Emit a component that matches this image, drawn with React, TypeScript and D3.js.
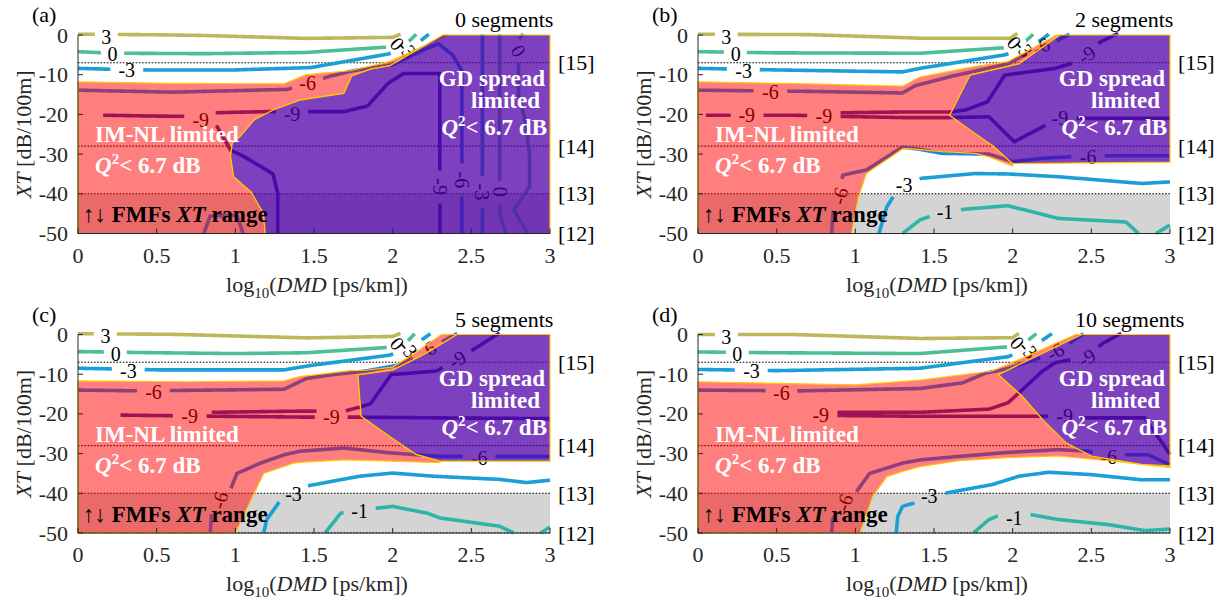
import React from "react";
import * as d3 from "d3";

type P = [number, number];
type Contour = { level: string; pts: P[] };
type Lab = [string, number, number, number];

const xTicks = [0, 0.5, 1, 1.5, 2, 2.5, 3];
const yTicks = [0, -10, -20, -30, -40, -50];
const fmfLevels = [-7, -28, -40, -50];
const fmfRefs = ["[15]", "[14]", "[13]", "[12]"];
const panelTags = ["(a)", "(b)", "(c)", "(d)"];
const segmentTitles = ["0 segments", "2 segments", "5 segments", "10 segments"];

const levelColor: Record<string, string> = {
  "3": "#bdb85c",
  "0": "#4cbf94",
  "-1": "#2fb5a8",
  "-3": "#1aa0d6",
  "-6": "#1f80f0",
  "-9": "#3e26a8",
};

// ---- (a) 0 segments
const imA: P[] = [[0,-11.8],[0.6,-12.2],[1.31,-12.3],[1.45,-10],[1.73,-9.0],[1.98,-6.7],[2.35,0],[2.32,0],[1.98,-7.8],[1.86,-8.6],[1.74,-10.3],[1.69,-14.7],[1.41,-16.4],[1.24,-18.9],[1.12,-21.4],[1.03,-25.6],[0.98,-27.3],[0.97,-30.7],[0.99,-35.7],[1.1,-39.5],[1.18,-45],[1.19,-50],[0,-50]];
const gdA: P[] = [[2.32,0],[3,0],[3,-50],[1.19,-50],[1.18,-45],[1.1,-39.5],[0.99,-35.7],[0.97,-30.7],[0.98,-27.3],[1.03,-25.6],[1.12,-21.4],[1.24,-18.9],[1.41,-16.4],[1.69,-14.7],[1.74,-10.3],[1.86,-8.6],[1.98,-7.8]];
const contoursA: Contour[] = [
  { level: "3", pts: [[0,0.2],[0.5,0.05],[0.78,-0.1],[1.45,-0.85],[2.0,-0.6],[2.05,0.2]] },
  { level: "0", pts: [[0,-4.2],[0.14,-4.45],[0.3,-4.6],[0.8,-4.7],[1.45,-4.4],[1.94,-3.1],[2.0,-3.0],[2.09,-2.1],[2.15,0.2]] },
  { level: "-3", pts: [[0,-8.4],[0.18,-8.6],[0.44,-8.8],[1.0,-8.8],[1.48,-8.2],[1.97,-4.8],[2.1,-3.5],[2.17,-1.7],[2.23,0.2]] },
  { level: "-6", pts: [[0,-13.9],[0.6,-14.4],[1.33,-13.7],[1.45,-12.4],[1.6,-10.4],[1.75,-9.0],[2.0,-7.5],[2.2,-3.7],[2.29,-2.2],[2.38,-5],[2.44,-9],[2.44,-50]] },
  { level: "-6", pts: [[0.8,-50],[0.84,-45.6],[1.01,-45.4],[1.05,-50]] },
  { level: "-9", pts: [[0.16,-20.2],[0.45,-20.4],[0.7,-20.5],[0.8,-21.2],[0.88,-22.8],[0.97,-29],[1.05,-30.5],[1.24,-35],[1.27,-40],[1.27,-50]] },
  { level: "-9", pts: [[0.85,-19.6],[1.2,-19.3],[1.69,-19.3],[1.84,-17.9],[1.97,-12.2],[2.07,-9.7],[2.3,-9.7],[2.3,-50]] },
  { level: "-3", pts: [[2.57,0.2],[2.57,-50]] },
  { level: "0", pts: [[2.68,0.2],[2.68,-45],[2.72,-50]] },
  { level: "0", pts: [[2.83,0.3],[2.78,-2.5],[2.8,-6],[2.8,-15],[2.85,-22.7],[2.87,-30.7],[2.87,-38.2],[2.77,-44.1],[2.86,-50]] },
];
const labelsA: Lab[] = [
  ["3",0.18,-0.4,0],["0",0.22,-4.7,0],["-3",0.31,-8.9,0],["0",2.03,-2.2,50],["-3",2.09,-3.5,50],
  ["-6",1.46,-12.2,0],["-9",0.78,-21.4,0],["-9",1.36,-19.9,0],
  ["-9",2.3,-38.2,90],["-6",2.44,-36.5,90],["-3",2.57,-39.5,90],["0",2.68,-39.5,90],["0",2.8,-4.0,60],
];

// ---- (b) 2 segments
const imB: P[] = [[0,-11.8],[0.7,-12.3],[1.3,-12.9],[1.41,-10.6],[1.75,-8.0],[1.97,-6.7],[2.28,0],[2.3,0],[2.04,-7.3],[1.73,-10.1],[1.6,-20.2],[1.73,-23.9],[1.88,-28.1],[2.0,-32.4],[2.0,-33.0],[1.85,-30.7],[1.76,-29.8],[1.55,-29.4],[1.34,-28.6],[1.3,-28.7],[1.07,-34.9],[1.02,-40.8],[0.975,-50],[0,-50]];
const gdB: P[] = [[2.3,0],[3,0],[3,-32.0],[2.0,-32.4],[1.88,-28.1],[1.73,-23.9],[1.6,-20.2],[1.73,-10.1],[2.04,-7.3]];
const contoursB: Contour[] = [
  { level: "3", pts: [[0,0.2],[0.7,0.1],[1.41,-0.8],[1.985,-0.84],[2.03,0.4]] },
  { level: "0", pts: [[0,-4.2],[0.5,-4.5],[1.41,-4.6],[1.95,-3.2],[2.0,-3.0],[2.09,-1.3],[2.13,0.2]] },
  { level: "-3", pts: [[0,-8.4],[0.5,-8.8],[1.3,-9.3],[1.41,-8.4],[1.95,-5.0],[2.05,-3.8],[2.18,-1.3],[2.23,0.2]] },
  { level: "-6", pts: [[0,-13.9],[0.7,-14.2],[1.3,-14.6],[1.38,-12.8],[1.6,-10.5],[1.97,-7.3],[2.1,-4.5],[2.2,-2.3],[2.27,-1.7],[2.36,0.2]] },
  { level: "-9", pts: [[0.05,-20.2],[0.6,-20.2],[0.9,-20.5],[1.3,-20.8],[1.6,-20.8],[1.85,-20.6],[2.01,-26.9],[2.23,-22.3],[2.4,-21],[3,-21]] },
  { level: "-9", pts: [[0.9,-19.6],[1.3,-19.4],[1.6,-19.4],[1.7,-18.9],[1.84,-16.8],[1.95,-10.1],[2.27,-8.4],[2.4,-6.8],[2.56,-1.7],[2.67,0.4]] },
  { level: "-6", pts: [[0.85,-50],[0.86,-43.3],[0.9,-40.5],[0.92,-35.3],[1.07,-34],[1.3,-28.2],[1.41,-28.8],[1.55,-29.8],[1.85,-30],[2.0,-31.9],[2.2,-31],[2.36,-30.7],[2.61,-30.4],[3,-30.4]] },
  { level: "-3", pts: [[1.15,-50],[1.2,-43.3],[1.26,-39.5],[1.31,-37.5],[1.42,-36.1],[1.76,-34.9],[1.97,-35.0],[2.29,-35.7],[2.82,-37.4],[3,-37]] },
  { level: "-1", pts: [[1.3,-50],[1.41,-46.6],[1.5,-45.3],[1.69,-43.9],[1.97,-43.0],[2.29,-46.2],[2.72,-47.1],[2.8,-50]] },
  { level: "-1", pts: [[2.91,-50],[3,-47.9]] },
];
const labelsB: Lab[] = [
  ["3",0.18,-0.5,0],["0",0.24,-4.7,0],["-3",0.29,-9.0,0],["0",2.01,-1.9,50],["-3",2.07,-3.3,50],
  ["-6",0.46,-14.3,0],["-6",2.18,-2.8,-25],["-9",0.31,-20.2,0],["-9",0.8,-20.3,0],["-9",2.3,-21,0],["-9",2.47,-5.0,-35],
  ["-6",0.9,-40.5,-75],["-6",2.48,-30.7,0],["-3",1.31,-37.8,0],["-1",1.57,-44.5,0],
];

// ---- (c) 5 segments
const imC: P[] = [[0,-11.7],[0.7,-11.9],[1.31,-11.7],[1.41,-10.6],[1.73,-9.1],[1.83,-9.0],[2.0,-8.2],[2.13,-5.0],[2.31,0],[2.41,0],[2.2,-5.0],[2.0,-9.0],[1.78,-10.2],[1.8,-20.6],[1.98,-25.6],[2.15,-30.2],[2.3,-31.9],[2.3,-32.3],[2.0,-31.9],[1.69,-31.6],[1.41,-32.2],[1.37,-32.4],[1.18,-35],[1.08,-43.3],[1.0,-50],[0,-50]];
const gdC: P[] = [[2.41,0],[3,0],[3,-31.9],[2.3,-31.9],[2.15,-30.2],[1.98,-25.6],[1.8,-20.6],[1.78,-10.2],[2.0,-9.0],[2.2,-5.0]];
const contoursC: Contour[] = [
  { level: "3", pts: [[0,0.2],[0.6,0.05],[1.45,-0.85],[2.0,-0.5],[2.05,0.3]] },
  { level: "0", pts: [[0,-4.3],[0.5,-4.6],[1.0,-4.8],[1.45,-4.6],[1.95,-3.3],[2.02,-3.0],[2.09,-1.9],[2.14,0.2]] },
  { level: "-3", pts: [[0,-8.5],[0.5,-8.9],[1.31,-8.9],[1.48,-7.8],[1.98,-5.2],[2.05,-4.3],[2.18,-1.5],[2.24,0.2]] },
  { level: "-6", pts: [[0,-14.0],[0.4,-14.2],[1.31,-13.8],[1.45,-11.1],[1.62,-10.1],[1.83,-9.2],[2.05,-7.6],[2.22,-3.9],[2.36,-0.8],[2.41,0.2]] },
  { level: "-9", pts: [[0.27,-20.3],[0.71,-20.5],[0.9,-20.6],[1.41,-20.8],[1.72,-20.8],[2.3,-21.0],[3,-21.2]] },
  { level: "-9", pts: [[0.85,-19.6],[1.41,-19.3],[1.69,-19.3],[1.8,-18.2],[1.86,-17.4],[1.99,-10.1],[2.28,-9.2],[2.39,-6.7],[2.48,-4.6],[2.68,0.4]] },
  { level: "-6", pts: [[0.84,-50],[0.85,-45],[0.9,-41.7],[0.97,-39],[1.01,-35],[1.16,-32.4],[1.31,-30.3],[1.41,-29.4],[1.69,-28.6],[1.98,-29.8],[2.3,-30.7],[3,-30.7]] },
  { level: "-3", pts: [[1.18,-50],[1.2,-46.6],[1.29,-41.6],[1.37,-40],[1.45,-38.2],[1.79,-35.7],[2.0,-34.9],[2.26,-35.7],[2.68,-36.5],[2.85,-37.3],[3,-36.7]] },
  { level: "-1", pts: [[1.57,-50],[1.67,-45],[1.79,-44.4],[1.91,-43.7],[2.0,-43.3],[2.22,-45.0],[2.3,-46.2],[2.68,-48.3],[2.77,-50]] },
  { level: "-1", pts: [[2.94,-50],[3,-48.5]] },
];
const labelsC: Lab[] = [
  ["3",0.175,-0.4,0],["0",0.24,-4.8,0],["-3",0.32,-9.2,0],["0",2.03,-2.3,50],["-3",2.1,-3.6,50],
  ["-6",0.48,-14.6,0],["-6",2.22,-3.9,-30],["-9",0.71,-20.6,0],["-9",1.61,-20.9,0],["-9",2.41,-6.3,-31],
  ["-6",0.9,-41.7,-75],["-6",2.55,-31.2,0],["-3",1.37,-40.2,0],["-1",1.79,-44.4,0],
];

// ---- (d) 10 segments
const imD: P[] = [[0,-11.9],[1.0,-12.7],[1.41,-11.5],[1.87,-9.2],[2.02,-6.7],[2.4,0],[2.44,0],[1.91,-10.1],[2.06,-15.5],[2.19,-21.4],[2.34,-27.3],[2.5,-30.6],[2.82,-32.7],[3,-33.1],[3,-33.5],[2.61,-31.8],[2.29,-30.6],[1.97,-31.0],[1.66,-31.8],[1.41,-33.3],[1.3,-34.5],[1.2,-35.8],[1.11,-40.8],[1.03,-50],[0,-50]];
const gdD: P[] = [[2.44,0],[3,0],[3,-33.1],[2.82,-32.7],[2.5,-30.6],[2.34,-27.3],[2.19,-21.4],[2.06,-15.5],[1.91,-10.1]];
const contoursD: Contour[] = [
  { level: "3", pts: [[0,0],[0.6,0],[1.41,-1.0],[2.0,-0.8],[2.04,0.3]] },
  { level: "0", pts: [[0,-4.4],[0.5,-4.6],[1.41,-4.8],[1.97,-3.1],[2.04,-2.6],[2.1,-1.4],[2.15,0.2]] },
  { level: "-3", pts: [[0,-8.8],[0.5,-9.1],[1.41,-8.5],[1.97,-5.6],[2.06,-4.2],[2.19,-1.4],[2.25,0.2]] },
  { level: "-6", pts: [[0,-14],[0.65,-14.2],[1.41,-13.6],[1.68,-12.2],[1.83,-9.7],[1.97,-8.6],[2.14,-6.3],[2.28,-4.6],[2.38,-1.7],[2.45,0.2]] },
  { level: "-9", pts: [[0.69,-20.2],[0.88,-20.4],[1.41,-20.6],[2.19,-20.6],[2.33,-20.6],[2.46,-21],[2.84,-21],[3,-30.2]] },
  { level: "-9", pts: [[0.88,-19.6],[1.41,-19.6],[1.85,-18.8],[1.97,-17.2],[2.04,-14.7],[2.19,-9.2],[2.27,-7.1],[2.47,-5.6],[2.57,-2.3],[2.69,0.3]] },
  { level: "-6", pts: [[0.85,-50],[0.855,-46.6],[0.93,-42.3],[1.0,-40],[1.09,-35],[1.3,-32.4],[1.41,-31.6],[1.66,-30.7],[1.97,-29.7],[2.29,-29],[2.48,-29.4],[2.61,-30.7],[2.72,-30.3],[2.86,-30.3],[3,-32.8]] },
  { level: "-3", pts: [[1.26,-50],[1.27,-45.8],[1.3,-43.3],[1.37,-42.5],[1.48,-40.5],[1.58,-39.9],[1.87,-37.8],[2.04,-35.7],[2.23,-34.7],[2.5,-35.3],[2.82,-36.6],[3,-36.6]] },
  { level: "-1", pts: [[1.75,-50],[1.85,-46.6],[1.9,-45.8],[2.0,-46.0],[2.12,-45.4],[2.29,-46.6],[2.61,-47.9],[2.84,-49.4],[3,-49]] },
];
const labelsD: Lab[] = [
  ["3",0.18,-0.6,0],["0",0.25,-5.0,0],["-3",0.34,-9.3,0],["0",2.03,-2.1,50],["-3",2.1,-3.8,50],
  ["-6",0.53,-14.8,0],["-6",2.27,-4.3,-30],["-9",0.78,-20.2,0],["-9",2.33,-20.6,0],["-9",2.47,-5.8,-30],
  ["-6",0.93,-42.3,-70],["-6",2.61,-30.9,0],["-3",1.47,-40.8,0],["-1",2.01,-46.1,0],
];

const panelData = [
  { im: imA, gd: gdA, contours: contoursA, labels: labelsA },
  { im: imB, gd: gdB, contours: contoursB, labels: labelsB },
  { im: imC, gd: gdC, contours: contoursC, labels: labelsC },
  { im: imD, gd: gdD, contours: contoursD, labels: labelsD },
];

const FONT = "'Liberation Serif', 'Times New Roman', Times, serif";
const PW = 472;
const PH = 198.5;
const origins: P[] = [[78, 35], [698, 35], [78, 334.5], [698, 334.5]];

// break a polyline (pixel coords) where contour labels sit
function cutAtLabels(pts: P[], holes: { x: number; y: number; r: number }[]): P[][] {
  const inside = (p: P) => holes.some((h) => (p[0] - h.x) ** 2 + (p[1] - h.y) ** 2 < h.r * h.r);
  const runs: P[][] = [];
  let cur: P[] = [];
  for (let i = 0; i < pts.length - 1; i++) {
    const [x0, y0] = pts[i];
    const [x1, y1] = pts[i + 1];
    const n = Math.max(1, Math.ceil(Math.hypot(x1 - x0, y1 - y0)));
    for (let k = 0; k < n; k++) {
      const t = k / n;
      const p: P = [x0 + (x1 - x0) * t, y0 + (y1 - y0) * t];
      if (inside(p)) {
        if (cur.length > 1) runs.push(cur);
        cur = [];
      } else cur.push(p);
    }
  }
  const last = pts[pts.length - 1];
  if (!inside(last)) cur.push(last);
  if (cur.length > 1) runs.push(cur);
  return runs;
}

function Panel({ idx }: { idx: number }) {
  const [left, top] = origins[idx];
  const { im, gd, contours, labels } = panelData[idx];
  const x = d3.scaleLinear().domain([0, 3]).range([left, left + PW]);
  const y = d3.scaleLinear().domain([-50, 0]).range([top + PH, top]);
  const line = d3.line<P>().x((d) => d[0]).y((d) => d[1]);
  const toPx = (pts: P[]): P[] => pts.map((p) => [x(p[0]), y(p[1])] as P);
  const poly = (pts: P[]) => line(toPx(pts)) + "Z";
  const clipId = `clip${idx}`;

  return (
    <g>
      <defs>
        <clipPath id={clipId}>
          <rect x={left - 4} y={top - 6} width={PW + 8} height={PH + 8} />
        </clipPath>
      </defs>
      <rect x={x(0)} y={y(-40)} width={x(3) - x(0)} height={y(-50) - y(-40)} fill="#d4d4d4" />
      {fmfLevels.map((v) => (
        <line key={v} x1={x(0)} x2={x(3)} y1={y(v)} y2={y(v)} stroke="#000" strokeWidth={1.1} strokeDasharray="1.6,1.6" />
      ))}
      <g clipPath={`url(#${clipId})`}>
        {contours.map((c, i) => {
          const holes = labels
            .filter((l) => l[0] === c.level)
            .map((l) => ({ x: x(l[1]), y: y(l[2]), r: l[0].length > 1 ? 16 : 11 }));
          return cutAtLabels(toPx(c.pts), holes).map((run, j) => (
            <path key={`${i}-${j}`} d={line(run) || ""} fill="none" stroke={levelColor[c.level]} strokeWidth={3.6} strokeLinejoin="round" />
          ));
        })}
        {labels.map((l, i) => (
          <text key={i} x={x(l[1])} y={y(l[2])} fontSize={20} textAnchor="middle" dominantBaseline="central" fill="#000"
            transform={l[3] ? `rotate(${l[3]},${x(l[1])},${y(l[2])})` : undefined}>
            {l[0]}
          </text>
        ))}
      </g>
      <path d={poly(im)} fill="rgba(255,0,0,0.5)" stroke="#ffc800" strokeWidth={1.2} />
      <path d={poly(gd)} fill="rgba(82,0,168,0.75)" stroke="#ffc800" strokeWidth={1.2} />

      {/* annotations */}
      <g fontWeight="bold" fontSize={23}>
        <text x={left + 17} y={top + 107} fill="#fff">IM-NL limited</text>
        <text x={left + 17} y={top + 138} fill="#fff">
          <tspan fontStyle="italic">Q</tspan>
          <tspan dy={-9} fontSize={15}>2</tspan>
          <tspan dy={9}>{"< 6.7 dB"}</tspan>
        </text>
        <text x={left + 5} y={top + 187} fill="#000">
          {"↑↓ FMFs "}
          <tspan fontStyle="italic">XT</tspan>
          {" range"}
        </text>
        <text x={left + PW - 5} y={top + 51} fill="#fff" textAnchor="end">GD spread</text>
        <text x={left + PW - 10} y={top + 73} fill="#fff" textAnchor="end">limited</text>
        <text x={left + PW - 3} y={top + 100} fill="#fff" textAnchor="end">
          <tspan fontStyle="italic">Q</tspan>
          <tspan dy={-9} fontSize={15}>2</tspan>
          <tspan dy={9}>{"< 6.7 dB"}</tspan>
        </text>
      </g>

      {/* axes */}
      <line x1={x(0)} x2={x(0)} y1={y(0)} y2={y(-50)} stroke="#262626" strokeWidth={1} />
      <line x1={x(0)} x2={x(3)} y1={y(-50)} y2={y(-50)} stroke="#262626" strokeWidth={1} />
      {xTicks.map((t) => (
        <g key={t}>
          <line x1={x(t)} x2={x(t)} y1={y(-50)} y2={y(-50) - 5} stroke="#262626" />
          <text x={x(t)} y={top + PH + 29} fontSize={22} textAnchor="middle" fill="#262626">{t}</text>
        </g>
      ))}
      {yTicks.map((t) => (
        <g key={t}>
          <line x1={x(0)} x2={x(0) + 5} y1={y(t)} y2={y(t)} stroke="#262626" />
          <text x={left - 10} y={y(t)} fontSize={22} textAnchor="end" dominantBaseline="central" fill="#262626">{t}</text>
        </g>
      ))}
      {fmfLevels.map((v, i) => (
        <text key={v} x={left + PW + 8} y={y(v)} fontSize={22} dominantBaseline="central" fill="#000">{fmfRefs[i]}</text>
      ))}
      <text x={left + PW / 2 + 3} y={top + PH + 58} fontSize={22} textAnchor="middle" fill="#262626">
        log<tspan dy={6} fontSize={15}>10</tspan>
        <tspan dy={-6}>(</tspan>
        <tspan fontStyle="italic">DMD</tspan>
        {" [ps/km])"}
      </text>
      <text transform={`translate(${left - 47},${top + PH / 2}) rotate(-90)`} fontSize={22} textAnchor="middle" fill="#262626">
        <tspan fontStyle="italic">XT</tspan>
        {" [dB/100m]"}
      </text>
      <text x={left - 46} y={top - 13} fontSize={22} fill="#000">{panelTags[idx]}</text>
      <text x={left + 377} y={top - 8} fontSize={22} fill="#000">{segmentTitles[idx]}</text>
    </g>
  );
}

export default function App() {
  return (
    <svg width={1229} height={606} style={{ position: "absolute", left: 0, top: 0, display: "block", background: "#fff" }} fontFamily={FONT}>
      {[0, 1, 2, 3].map((i) => (
        <Panel key={i} idx={i} />
      ))}
    </svg>
  );
}
